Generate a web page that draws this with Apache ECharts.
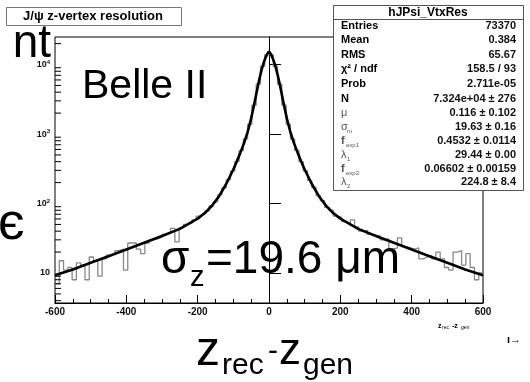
<!DOCTYPE html>
<html><head><meta charset="utf-8">
<script src="https://cdn.jsdelivr.net/npm/echarts@6/dist/echarts.min.js"></script>
<style>html,body{margin:0;padding:0;background:#fff}#c{width:530px;height:382px}</style>
</head><body><div id="c"></div>
<script>
// ---- data ----
const histLow = -600, binWidth = 12;
const histCounts = [7,15,11,12,8,14,13,8,17,15, 9,16,18,19,21,22,11,27,27,22,
  19,27,30,31,33,36,38,44,28,45, 50,52,58,66,70,78,92,106,133,168,
  220,292,405,575,850,1380,2600,5230,9430,13840,
  13900,9450,5200,2610,1375,845,580,400,296,215, 170,130,110,88,80,66,63,55,52,58,
  46,40,41,36,35,34,30,31,22,23, 32,24,23,22,23,16,17,18,16,20, 16,12,11,20,21,13,19,12,8,10];
const fitX = [-600,-550,-500,-450,-400,-350,-300,-250,-200,-180,-160,-140,-120,-100,-90,-80,-70,-60,-50,-40,-30,-25,-20,-15,-10,-5,0,5,10,15,20,25,30,40,50,60,70,80,90,100,120,140,160,180,200,250,300,350,400,450,500,550,600];
const fitY = [9.3,11.2,14,17.4,21.8,27.2,34,43.2,60.6,72.9,92.8,127.5,191,309,405,544,739,1062,1679,2926,5228,6830,8660,10600,12485,14150,15480,14150,12485,10600,8660,6830,5228,2926,1679,1062,739,544,405,309,191,127.5,92.8,72.9,60.6,43.2,34,27.2,21.8,17.4,14,11.2,9.3];
const xTickLabels = ['-600','-400','-200','0','200','400','600'];
const yMinorTicks = [4,5,6,7,8,9,20,30,40,50,60,70,80,90,200,300,400,500,600,700,800,900,2000,3000,4000,5000,6000,7000,8000,9000,20000];
const statNames = ['Entries','Mean','RMS','χ² / ndf','Prob','N','μ','σ','f','λ','f','λ'];
const statSubs  = ['','','','','','','','m','exp1','1','exp2','2'];
const statVals  = ['73370','0.384','65.67','158.5 / 93','2.711e-05','7.324e+04 ± 276','0.116 ± 0.102','19.63 ± 0.16','0.4532 ± 0.0114','29.44 ± 0.00','0.06602 ± 0.00159','224.8 ± 8.4'];

// ---- build ----
const histData = histCounts.map((v,i)=>[histLow + i*binWidth, v]);
histData.push([histLow + histCounts.length*binWidth, histCounts[histCounts.length-1]]);
const fitData = fitX.map((x,i)=>[x, fitY[i]]);
const minorData = yMinorTicks.map(v=>[-600, v]);

const F = '"Liberation Sans", Arial, sans-serif';
const gfx = [];
function txt(t, x, y, size, opt){ opt = opt||{}; gfx.push({type:'text', z:100, style:{text:t, x:x, y:y, font:(opt.weight||'normal')+' '+size+'px '+F, fill:opt.fill||'#000', textAlign:opt.align||'left', textVerticalAlign:'middle'}}); }

// title box
gfx.push({type:'rect', z:100, shape:{x:6.5,y:7.5,width:175,height:18}, style:{fill:'#fff', stroke:'#777', lineWidth:1}});
txt('J/ψ z-vertex resolution', 93, 16.5, 13, {weight:'bold', align:'center'});
// stats box
gfx.push({type:'rect', z:100, shape:{x:333.5,y:5.5,width:190,height:185}, style:{fill:'#fff', stroke:'#555', lineWidth:1}});
gfx.push({type:'line', z:100, shape:{x1:333.5,y1:19.5,x2:523.5,y2:19.5}, style:{stroke:'#555', lineWidth:1}});
txt('hJPsi_VtxRes', 428, 12.5, 12, {weight:'bold', align:'center'});
const rowY = [26,40,54.5,69,83.5,98.5,113,127,141,155,169,182];
statNames.forEach((n,i)=>{
  const greek = i>=6 && n!=='f';
  txt(n, 341, rowY[i], 11, {weight: greek?'normal':'bold', fill: i>=6 ? '#555' : '#000'});
  if (statSubs[i]) txt(statSubs[i], n==='f'?346:347, rowY[i]+4, 6, {fill:'#555'});
  txt(statVals[i], 516, rowY[i], 11, {weight:'bold', align:'right', fill:'#111'});
});
// overlay slide text
txt('nt', 51, 44, 46, {align:'right'});
txt('є', -2, 225, 52);
txt('Belle II', 82, 87, 41);
txt('σ', 161, 260.5, 46);
txt('z', 190, 277.5, 29);
txt('=19.6 μm', 206, 260.5, 46);
txt('z', 196, 352, 48);
txt('rec', 222, 366, 30);
txt('-', 268, 352, 30);
txt('z', 279, 352, 44);
txt('gen', 303, 366, 30);
// small ROOT axis title
txt('z', 438, 326, 7, {weight:'bold'});
txt('rec', 442, 328, 5);
txt('-z', 452, 326, 7, {weight:'bold'});
txt('gen', 461, 328, 5);
txt('ı→', 507, 340, 11, {weight:'bold'});

const chart = echarts.init(document.getElementById('c'), null, {renderer:'canvas'});
chart.setOption({
  animation:false,
  backgroundColor:'#fff',
  grid:{left:55, right:47, top:37, bottom:79, show:true, borderColor:'#000', borderWidth:1, containLabel:false, outerBoundsMode:'none'},
  xAxis:{type:'value', min:-600, max:600, interval:200,
    axisLine:{lineStyle:{color:'#000', width:1}},
    axisTick:{inside:true, length:8, lineStyle:{color:'#000'}},
    minorTick:{show:true, splitNumber:4, length:4, lineStyle:{color:'#000'}},
    splitLine:{show:false},
    axisLabel:{margin:4, fontSize:10, fontWeight:'bold', fontFamily:F, color:'#111',
      formatter:(v)=>xTickLabels[Math.round((v+600)/200)]}},
  yAxis:{type:'log', logBase:10, min:3.7, max:24900,
    axisLine:{lineStyle:{color:'#000', width:1}},
    axisTick:{inside:true, length:12, lineStyle:{color:'#000'}},
    splitLine:{show:false}, minorTick:{show:false},
    axisLabel:{showMinLabel:false, showMaxLabel:false, margin:5, fontSize:9, fontWeight:'bold', fontFamily:F, color:'#111',
      formatter:(v)=>{const e=Math.round(Math.log10(v)); return e===1?'10':'10{s|'+e+'}';},
      rich:{s:{fontSize:6, fontWeight:'bold', fontFamily:F, verticalAlign:'top', padding:[0,0,5,0]}}}},
  series:[
    {type:'line', data:histData, step:'end', symbol:'none', lineStyle:{color:'#888', width:1.3}, z:2},
    {type:'line', data:fitData, symbol:'none', lineStyle:{color:'#000', width:2.6}, z:3},
    {type:'custom', data:minorData, z:4, silent:true, clip:false,
      renderItem:(params, api)=>{ const p = api.coord([api.value(0), api.value(1)]);
        return {type:'line', shape:{x1:p[0], y1:p[1], x2:p[0]+6, y2:p[1]}, style:{stroke:'#000', lineWidth:1}}; }}
  ],
  graphic: gfx
});
</script></body></html>
